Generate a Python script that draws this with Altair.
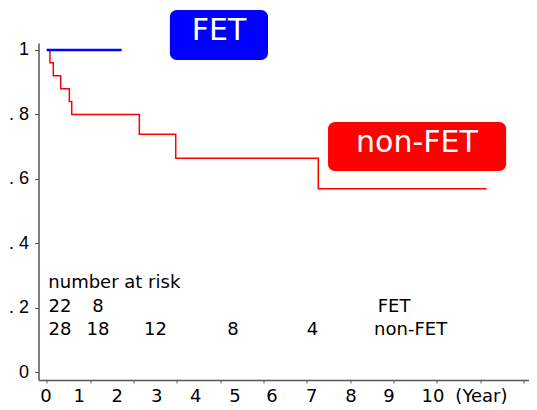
import altair as alt
import pandas as pd

# Kaplan-Meier curves (x in days, y survival)
red_days = [0, 30, 61, 129, 209, 231, 855, 1191, 2507, 4062]
red_surv = [1.0, 0.96, 0.92, 0.88, 0.84, 0.80, 0.738, 0.664, 0.569, 0.569]
blue_days = [0, 692]
blue_surv = [1.0, 1.0]

# axis ticks
x_ticks = list(range(0, 4401, 200))
y_ticks = [0, 0.1, 0.2, 0.3, 0.4, 0.5, 0.6, 0.7, 0.8, 0.9, 1.0]

# hand-placed year labels under the axis
year_labels = ["0", "1", "2", "3", "4", "5", "6", "7", "8", "9", "10", "(Year)"]
year_pos = [-6, 301, 652, 1015, 1375, 1738, 2080, 2446, 2809, 3160, 3566, 4013]
year_y = -0.079

# number at risk table
risk_text = ["22", "8", "FET", "28", "18", "12", "8", "4", "non-FET"]
risk_x = [123, 474, 3207, 123, 474, 1005, 1720, 2454, 3359]
risk_y = [0.202, 0.202, 0.202, 0.130, 0.130, 0.130, 0.130, 0.130, 0.130]
risk_title = "number at risk"
risk_title_x = 15
risk_title_y = 0.276

# label boxes
box_text = ["FET", "non-FET"]
box_color = ["#0000FF", "#FF0000"]
box_x1 = [1137, 2597]
box_x2 = [2043, 4241]
box_y1 = [0.969, 0.624]
box_y2 = [1.124, 0.776]
box_tx = [1591, 3418]
box_ty = [1.059, 0.710]

XDOM = [-75.7, 4452]
YDOM = [-0.0248, 1.0217]

xs = alt.Scale(domain=XDOM, nice=False, zero=False)
ys = alt.Scale(domain=YDOM, nice=False, zero=False)

red = pd.DataFrame({"d": red_days, "s": red_surv})
blue = pd.DataFrame({"d": blue_days, "s": blue_surv})

x_axis = alt.Axis(values=x_ticks, labels=False, title=None, grid=False,
                  domainColor="#555555", domainWidth=1.5, tickColor="#555555",
                  tickSize=3, tickWidth=1)
y_axis = alt.Axis(values=y_ticks, title=None, grid=False,
                  domainColor="#555555", domainWidth=1.5, tickColor="#555555",
                  tickSize=4, tickWidth=1,
                  labelExpr="datum.value == 1 ? '1' : datum.value == 0 ? '0' : (round(datum.value*10) % 2 == 0 ? '. ' + round(datum.value*10) : '')",
                  labelFont="Liberation Sans", labelFontSize=18, labelColor="black",
                  labelPadding=6)

red_line = alt.Chart(red).mark_line(interpolate="step-after", color="#FF0000", strokeWidth=1.5).encode(
    x=alt.X("d:Q", scale=xs, axis=x_axis),
    y=alt.Y("s:Q", scale=ys, axis=y_axis),
)
blue_line = alt.Chart(blue).mark_line(interpolate="step-after", color="#0000FF", strokeWidth=2.5).encode(
    x=alt.X("d:Q", scale=xs),
    y=alt.Y("s:Q", scale=ys),
)

ydf = pd.DataFrame({"t": year_labels, "x": year_pos, "y": [year_y] * len(year_labels)})
year_text = alt.Chart(ydf).mark_text(font="DejaVu Sans", fontSize=18, color="black",
                                     align="center", baseline="middle").encode(
    x=alt.X("x:Q", scale=xs), y=alt.Y("y:Q", scale=ys), text="t:N")

rdf = pd.DataFrame({"t": risk_text, "x": risk_x, "y": risk_y})
risk = alt.Chart(rdf).mark_text(font="DejaVu Sans", fontSize=18, color="black",
                                align="center", baseline="middle").encode(
    x=alt.X("x:Q", scale=xs), y=alt.Y("y:Q", scale=ys), text="t:N")

tdf = pd.DataFrame({"t": [risk_title], "x": [risk_title_x], "y": [risk_title_y]})
risk_head = alt.Chart(tdf).mark_text(font="DejaVu Sans", fontSize=18, color="black",
                                     align="left", baseline="middle").encode(
    x=alt.X("x:Q", scale=xs), y=alt.Y("y:Q", scale=ys), text="t:N")

bdf = pd.DataFrame({"t": box_text, "c": box_color, "x1": box_x1, "x2": box_x2,
                    "y1": box_y1, "y2": box_y2, "tx": box_tx, "ty": box_ty})
boxes = alt.Chart(bdf).mark_rect(cornerRadius=7).encode(
    x=alt.X("x1:Q", scale=xs), x2="x2:Q",
    y=alt.Y("y1:Q", scale=ys), y2="y2:Q",
    color=alt.Color("c:N", scale=None, legend=None),
)
box_labels = alt.Chart(bdf).mark_text(font="DejaVu Sans", fontSize=30, color="white",
                                      align="center", baseline="middle").encode(
    x=alt.X("tx:Q", scale=xs), y=alt.Y("ty:Q", scale=ys), text="t:N")

chart = alt.layer(red_line, blue_line, year_text, risk, risk_head, boxes, box_labels).properties(
    width=490.5, height=337,
    autosize=alt.AutoSizeParams(type="none"),
    padding={"left": 30.5, "top": 35, "right": 0, "bottom": 27},
).configure_view(stroke=None)

chart.save("out.html", embed_options={"renderer": "svg", "actions": False})
